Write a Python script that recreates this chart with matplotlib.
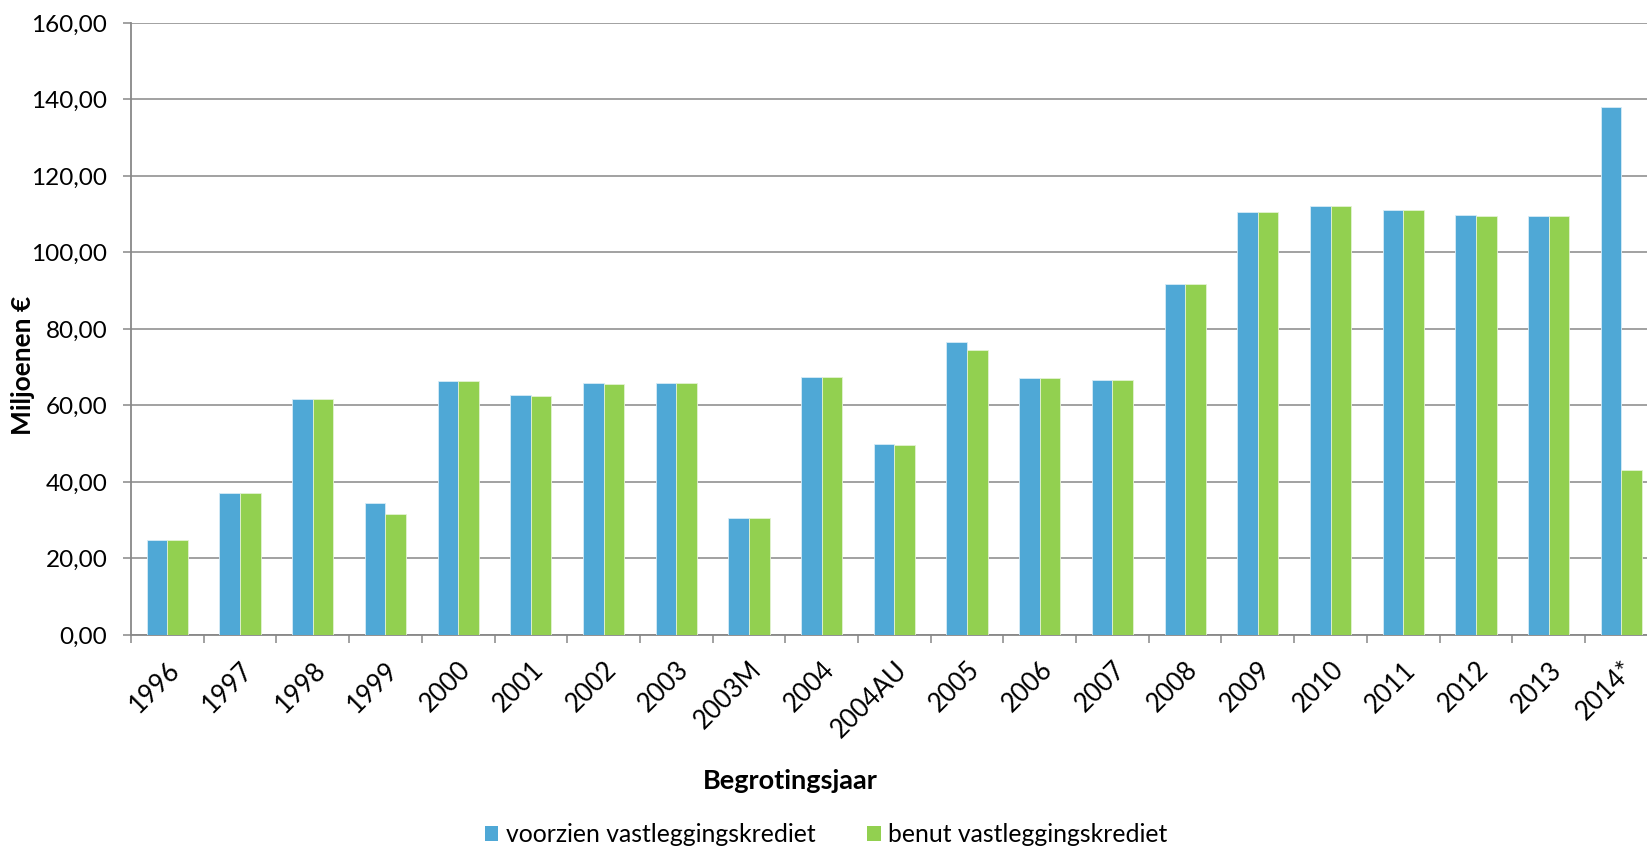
import matplotlib
matplotlib.use("Agg")
import matplotlib.pyplot as plt
import numpy as np
from matplotlib.patches import Patch

plt.rcParams['font.family'] = ['Lato', 'DejaVu Sans']

categories = ["1996", "1997", "1998", "1999", "2000", "2001", "2002", "2003", "2003M",
              "2004", "2004AU", "2005", "2006", "2007", "2008", "2009", "2010", "2011",
              "2012", "2013", "2014*"]
voorzien = [24.7, 37.1, 61.8, 34.4, 66.4, 62.6, 65.8, 65.8, 30.5, 67.5, 49.9, 76.7,
            67.3, 66.7, 91.7, 110.7, 112.1, 111.1, 109.7, 109.6, 138.0]
benut = [24.7, 37.1, 61.7, 31.5, 66.4, 62.4, 65.5, 65.8, 30.5, 67.4, 49.7, 74.5,
         67.2, 66.6, 91.7, 110.6, 112.1, 111.0, 109.5, 109.6, 43.0]
yticks = [0, 20, 40, 60, 80, 100, 120, 140, 160]
series_names = ["voorzien vastleggingskrediet", "benut vastleggingskrediet"]

blue = "#4FA8D6"
green = "#92D050"
grey = "#888888"

W, H = 1647, 848
fig = plt.figure(figsize=(W / 100, H / 100), dpi=100)
left, right, bottom, top = 131, 1657.7, 848 - 634.9, 848 - 23
ax = fig.add_axes([left / W, bottom / H, (right - left) / W, (top - bottom) / H])

x = np.arange(len(categories))
bw = 0.283
ax.bar(x - bw / 2, voorzien, width=bw, color=blue, edgecolor="#D6ECF7", linewidth=0.6, zorder=3)
ax.bar(x + bw / 2, benut, width=bw, color=green, edgecolor="#E3F2D3", linewidth=0.6, zorder=3)

ax.set_xlim(-0.5, len(categories) - 0.5)
ax.set_ylim(0, 160)

ax.set_yticks(yticks)
ax.set_yticklabels([f"{v:.2f}".replace(".", ",") for v in yticks], fontsize=17.5)
ax.tick_params(axis='y', direction='out', length=6, width=1.1, color=grey, pad=11)
ax.yaxis.grid(True, color=grey, linewidth=1.1, zorder=0)
ax.set_axisbelow(True)

ax.set_xticks(x)
ax.set_xticklabels(categories, fontsize=18.5, rotation=45, ha='right', va='top',
                   rotation_mode='anchor')
ax.tick_params(axis='x', which='major', length=0, pad=16)
ax.set_xticks(np.arange(len(categories) + 1) - 0.5, minor=True)
ax.tick_params(axis='x', which='minor', direction='out', length=6, width=1.1, color=grey)

for s in ['top', 'right']:
    ax.spines[s].set_visible(False)
for s in ['left', 'bottom']:
    ax.spines[s].set_color(grey)
    ax.spines[s].set_linewidth(1.3)

ax.set_ylabel("Miljoenen €", fontsize=19, fontweight='bold')
ax.yaxis.set_label_coords(-0.063, 0.441)

fig.text(790 / W, 1 - 781 / H, "Begrotingsjaar", fontsize=19.5, fontweight='bold',
         ha='center', va='center')

handles = [Patch(facecolor=blue, edgecolor='none'), Patch(facecolor=green, edgecolor='none')]
fig.legend(handles, series_names, loc='center', bbox_to_anchor=(826 / W, 1 - 835 / H),
           ncol=2, frameon=False, fontsize=17.8, handlelength=0.55, handleheight=0.55,
           handletextpad=0.3, columnspacing=2.1, borderpad=0, borderaxespad=0)

fig.savefig("out.png", dpi=100)
